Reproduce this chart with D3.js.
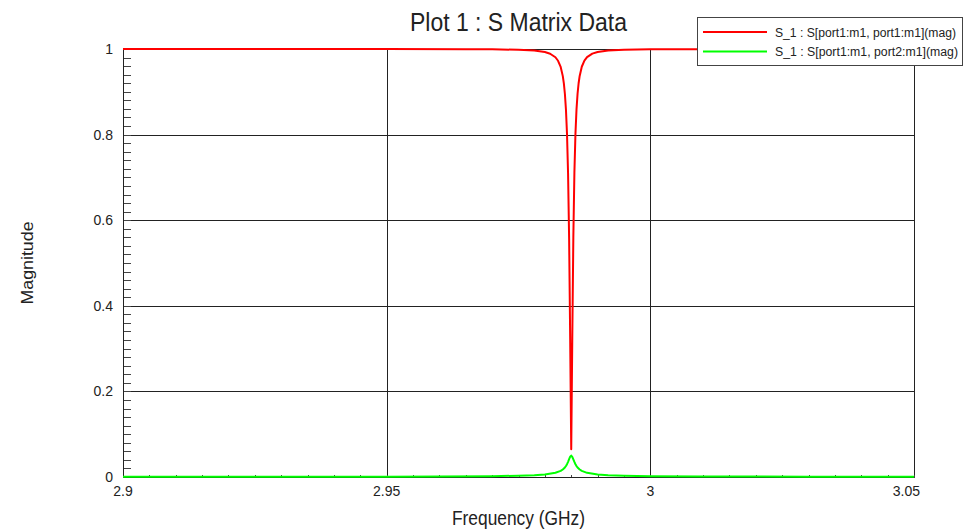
<!DOCTYPE html>
<html>
<head>
<meta charset="utf-8">
<script src="https://cdn.jsdelivr.net/npm/d3@7"></script>
<style>
  body { margin: 0; background: #fff; }
  text { font-family: "Liberation Sans", Arial, sans-serif; fill: #222; }
</style>
</head>
<body>
<svg id="chart" width="964" height="529"></svg>
<script>
// S11 magnitude (reflection) vs frequency, GHz
const s11Freq = [2.900, 2.950, 2.965, 2.970, 2.975, 2.978, 2.980, 2.981, 2.982, 2.9825,
                 2.983, 2.9834, 2.9836, 2.9838, 2.9840, 2.9842, 2.9844, 2.9846, 2.9848, 2.9850,
                 2.9852, 2.9854, 2.9856, 2.9858, 2.9860, 2.9862, 2.9864, 2.9866, 2.9870, 2.9875,
                 2.9880, 2.9890, 2.9900, 2.9920, 2.9950, 3.0000, 3.0100, 3.0500];
const s11Mag  = [1.0000, 0.9999, 0.9995, 0.9992, 0.9982, 0.9964, 0.9929, 0.9890, 0.9807, 0.9725,
                 0.9580, 0.9366, 0.9195, 0.8949, 0.8580, 0.8010, 0.7090, 0.5570, 0.3220, 0.0650,
                 0.3250, 0.5600, 0.7110, 0.8020, 0.8590, 0.8955, 0.9200, 0.9370, 0.9585, 0.9728,
                 0.9809, 0.9891, 0.9930, 0.9965, 0.9982, 0.9992, 0.9997, 1.0000];

// S21 magnitude (transmission) vs frequency, GHz
const s21Freq = [2.900, 2.930, 2.950, 2.960, 2.970, 2.975, 2.978, 2.980, 2.982, 2.983,
                 2.9834, 2.9838, 2.9840, 2.9842, 2.9844, 2.9846, 2.9848, 2.9850, 2.9852, 2.9854,
                 2.9856, 2.9858, 2.9860, 2.9862, 2.9866, 2.9870, 2.9880, 2.9900, 2.9920, 2.9950,
                 3.0000, 3.0100, 3.0300, 3.0500];
const s21Mag  = [0.0004, 0.0005, 0.0008, 0.0012, 0.0020, 0.0030, 0.0043, 0.0060, 0.0098, 0.0144,
                 0.0176, 0.0224, 0.0257, 0.0300, 0.0354, 0.0416, 0.0474, 0.0500, 0.0472, 0.0413,
                 0.0352, 0.0298, 0.0255, 0.0222, 0.0175, 0.0143, 0.0097, 0.0059, 0.0043, 0.0030,
                 0.0020, 0.0012, 0.0007, 0.0005];

const xTicks = [2.9, 2.95, 3.0, 3.05];
const xTickLabels = ["2.9", "2.95", "3", "3.05"];
const yTicks = [0, 0.2, 0.4, 0.6, 0.8, 1];
const yTickLabels = ["0", "0.2", "0.4", "0.6", "0.8", "1"];
const seriesNames = ["S_1 : S[port1:m1, port1:m1](mag)", "S_1 : S[port1:m1, port2:m1](mag)"];
const seriesColors = ["#ff0000", "#00ff00"];
const titleText = "Plot 1 : S Matrix Data";
const xTitle = "Frequency (GHz)";
const yTitle = "Magnitude";

const svg = d3.select("#chart");
svg.append("rect").attr("width", 964).attr("height", 529).attr("fill", "#fff");

const x = d3.scaleLinear().domain([2.9, 3.05]).range([123, 914]);
const y = d3.scaleLinear().domain([0, 1]).range([477, 49]);

// grid lines at major ticks
const grid = svg.append("g").attr("stroke", "#222").attr("stroke-width", 1).attr("shape-rendering", "crispEdges");
grid.selectAll("line.h").data(yTicks.slice(1)).join("line")
  .attr("x1", x(2.9)).attr("x2", x(3.05))
  .attr("y1", d => Math.round(y(d)) + 0.5).attr("y2", d => Math.round(y(d)) + 0.5);
grid.selectAll("line.v").data(xTicks.slice(1)).join("line")
  .attr("x1", d => Math.round(x(d)) + 0.5).attr("x2", d => Math.round(x(d)) + 0.5)
  .attr("y1", y(1)).attr("y2", y(0));

// axes with inward minor ticks
const xMinor = d3.range(0, 31).map(i => 2.9 + i * 0.005);
const yMinor = d3.range(0, 51).map(i => i * 0.02);

const xAxis = d3.axisBottom(x).tickValues(xMinor).tickSize(-3).tickFormat("");
const gx = svg.append("g").attr("transform", `translate(0,${Math.round(y(0)) + 0.5})`).call(xAxis);
gx.select(".domain").remove();
gx.selectAll(".tick line").attr("stroke", "#444").attr("shape-rendering", "crispEdges");

const yAxis = d3.axisLeft(y).tickValues(yMinor).tickSize(-7).tickFormat("");
const gy = svg.append("g").attr("transform", `translate(${Math.round(x(2.9)) + 0.5},0)`).call(yAxis);
gy.select(".domain").remove();
gy.selectAll(".tick line").attr("stroke", "#444").attr("shape-rendering", "crispEdges");

// axis lines
svg.append("line").attr("x1", x(2.9)).attr("x2", x(3.05))
  .attr("y1", Math.round(y(0)) + 0.5).attr("y2", Math.round(y(0)) + 0.5)
  .attr("stroke", "#222").attr("shape-rendering", "crispEdges");
svg.append("line").attr("x1", Math.round(x(2.9)) + 0.5).attr("x2", Math.round(x(2.9)) + 0.5)
  .attr("y1", y(1)).attr("y2", y(0))
  .attr("stroke", "#222").attr("shape-rendering", "crispEdges");

// tick labels
svg.append("g").selectAll("text").data(yTicks).join("text")
  .attr("x", 113).attr("y", d => y(d)).attr("dy", "0.35em")
  .attr("text-anchor", "end").attr("font-size", 14).attr("fill", "#333")
  .text((d, i) => yTickLabels[i]);
svg.append("g").selectAll("text").data(xTicks).join("text")
  .attr("x", (d, i) => i === xTicks.length - 1 ? x(d) + 6 : x(d)).attr("y", 496)
  .attr("text-anchor", (d, i) => i === xTicks.length - 1 ? "end" : "middle")
  .attr("font-size", 14).attr("fill", "#333")
  .text((d, i) => xTickLabels[i]);

// curves
const line = d3.line().x(d => x(d[0])).y(d => y(d[1]));
const series = [
  d3.zip(s11Freq, s11Mag),
  d3.zip(s21Freq, s21Mag)
];
svg.append("g").selectAll("path").data(series).join("path")
  .attr("d", line).attr("fill", "none")
  .attr("stroke", (d, i) => seriesColors[i]).attr("stroke-width", 2)
  .attr("stroke-linejoin", "round");

// titles
svg.append("text").attr("x", 518.5).attr("y", 31).attr("text-anchor", "middle")
  .attr("font-size", 26).attr("textLength", 217).attr("lengthAdjust", "spacingAndGlyphs")
  .text(titleText);
svg.append("text").attr("x", 518.5).attr("y", 525).attr("text-anchor", "middle")
  .attr("font-size", 20).attr("textLength", 133).attr("lengthAdjust", "spacingAndGlyphs")
  .text(xTitle);
svg.append("text").attr("transform", "translate(33,263) rotate(-90)").attr("text-anchor", "middle")
  .attr("font-size", 17).attr("textLength", 83).attr("lengthAdjust", "spacingAndGlyphs")
  .text(yTitle);

// legend
const lg = svg.append("g");
lg.append("rect").attr("x", 697.5).attr("y", 17.5).attr("width", 265).attr("height", 48)
  .attr("fill", "#fff").attr("stroke", "#444").attr("shape-rendering", "crispEdges");
const items = lg.selectAll("g").data(seriesNames).join("g")
  .attr("transform", (d, i) => `translate(0,${i * 19.5})`);
items.append("line").attr("x1", 703).attr("x2", 767).attr("y1", 32).attr("y2", 32)
  .attr("stroke", (d, i) => seriesColors[i]).attr("stroke-width", 2);
items.append("text").attr("x", 775).attr("y", 36.5).attr("font-size", 12)
  .attr("textLength", (d, i) => i === 0 ? 181 : 183).attr("lengthAdjust", "spacingAndGlyphs")
  .text(d => d);
</script>
</body>
</html>
